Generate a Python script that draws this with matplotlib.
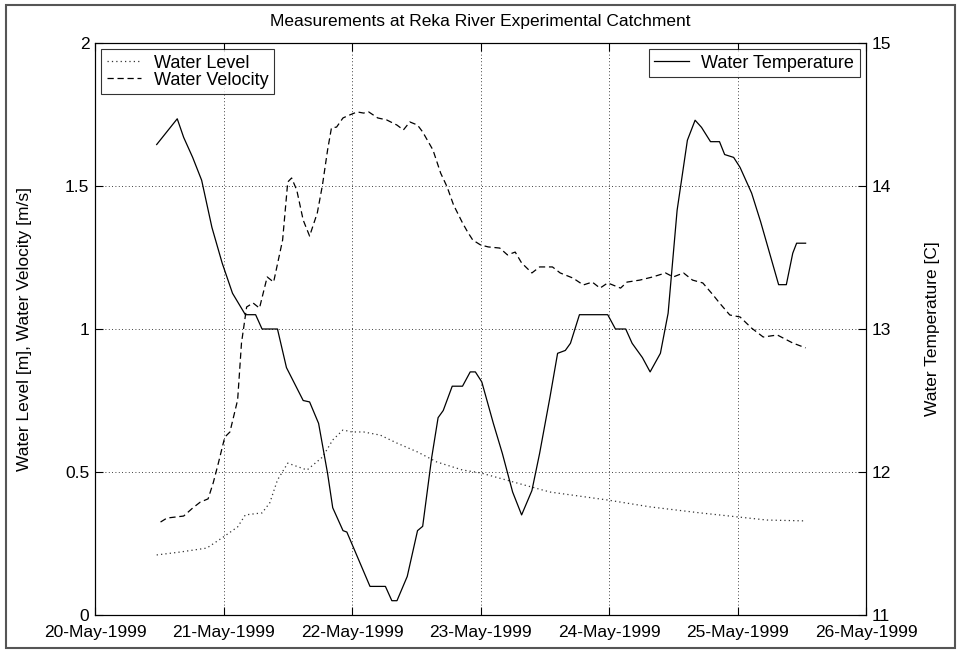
import numpy as np
import matplotlib
matplotlib.use('Agg')
import matplotlib.pyplot as plt
import matplotlib.dates as mdates
from matplotlib.patches import Rectangle

plt.rcParams['font.family'] = ['Liberation Sans', 'DejaVu Sans']

# time in days after 20-May-1999 00:00
temp_days = [0.48, 0.64, 0.69, 0.76, 0.83, 0.91, 0.99, 1.07, 1.17, 1.25, 1.30, 1.42,
             1.49, 1.62, 1.67, 1.74, 1.81, 1.85, 1.93, 1.96, 2.14, 2.26, 2.31, 2.35,
             2.43, 2.51, 2.55, 2.62, 2.67, 2.71, 2.78, 2.86, 2.92, 2.96, 3.01, 3.10,
             3.17, 3.25, 3.32, 3.40, 3.46, 3.54, 3.60, 3.66, 3.70, 3.77, 3.99, 4.05,
             4.13, 4.18, 4.26, 4.32, 4.40, 4.46, 4.53, 4.61, 4.67, 4.72, 4.79, 4.86,
             4.90, 4.97, 5.02, 5.11, 5.18, 5.25, 5.32, 5.38, 5.43, 5.46, 5.53]
temp = [14.29, 14.47, 14.34, 14.20, 14.04, 13.71, 13.46, 13.25, 13.10, 13.10, 13.00, 13.00,
        12.73, 12.50, 12.49, 12.34, 11.99, 11.75, 11.59, 11.58, 11.20, 11.20, 11.10, 11.10,
        11.27, 11.59, 11.62, 12.10, 12.38, 12.43, 12.60, 12.60, 12.70, 12.70, 12.63, 12.34,
        12.13, 11.86, 11.70, 11.87, 12.13, 12.52, 12.83, 12.85, 12.90, 13.10, 13.10, 13.00,
        13.00, 12.90, 12.80, 12.70, 12.83, 13.11, 13.83, 14.32, 14.46, 14.41, 14.31, 14.31,
        14.22, 14.20, 14.13, 13.95, 13.75, 13.53, 13.31, 13.31, 13.53, 13.60, 13.60]

vel_days = [0.51, 0.56, 0.69, 0.76, 0.82, 0.88, 0.92, 0.96, 1.01, 1.05, 1.11, 1.14,
            1.18, 1.23, 1.28, 1.34, 1.39, 1.46, 1.50, 1.53, 1.57, 1.62, 1.67, 1.73,
            1.77, 1.81, 1.84, 1.88, 1.93, 1.98, 2.04, 2.09, 2.13, 2.20, 2.27, 2.35,
            2.40, 2.45, 2.51, 2.55, 2.63, 2.69, 2.74, 2.79, 2.86, 2.90, 2.94, 3.00,
            3.06, 3.15, 3.21, 3.27, 3.32, 3.40, 3.46, 3.56, 3.62, 3.72, 3.80, 3.87,
            3.93, 3.99, 4.09, 4.14, 4.24, 4.34, 4.44, 4.50, 4.58, 4.65, 4.73, 4.81,
            4.86, 4.94, 5.02, 5.11, 5.20, 5.31, 5.43, 5.53]
vel = [0.325, 0.339, 0.346, 0.374, 0.395, 0.406, 0.462, 0.531, 0.622, 0.640, 0.752, 0.951,
       1.077, 1.091, 1.073, 1.182, 1.164, 1.311, 1.514, 1.528, 1.486, 1.381, 1.325, 1.406,
       1.503, 1.626, 1.703, 1.706, 1.738, 1.748, 1.759, 1.755, 1.759, 1.738, 1.731, 1.713,
       1.696, 1.724, 1.713, 1.689, 1.626, 1.545, 1.497, 1.434, 1.371, 1.339, 1.311, 1.294,
       1.287, 1.283, 1.259, 1.269, 1.231, 1.196, 1.217, 1.217, 1.196, 1.178, 1.154, 1.164,
       1.143, 1.161, 1.143, 1.164, 1.171, 1.182, 1.196, 1.182, 1.196, 1.171, 1.161, 1.119,
       1.091, 1.049, 1.042, 1.003, 0.972, 0.979, 0.951, 0.934]

level_days = [0.48, 0.66, 0.87, 1.00, 1.11, 1.17, 1.30, 1.36, 1.42, 1.50, 1.65, 1.77,
              1.85, 1.93, 2.00, 2.09, 2.22, 2.35, 2.51, 2.66, 2.86, 3.00, 3.28, 3.54,
              3.99, 4.32, 4.71, 5.00, 5.23, 5.53]
level = [0.210, 0.220, 0.234, 0.273, 0.308, 0.350, 0.357, 0.392, 0.472, 0.531, 0.507, 0.552,
         0.612, 0.647, 0.640, 0.640, 0.629, 0.601, 0.570, 0.535, 0.507, 0.497, 0.462, 0.430,
         0.402, 0.378, 0.357, 0.343, 0.332, 0.329]

start = np.datetime64('1999-05-20T00:00')
FS = 12.5


def to_time(days):
    return start + (np.array(days) * 86400).astype('timedelta64[s]')


fig = plt.figure(figsize=(9.6, 6.53), dpi=100)
fig.add_artist(Rectangle((6 / 960, 5 / 653), 949 / 960, 643 / 653, transform=fig.transFigure,
                         fill=False, edgecolor='#555555', linewidth=1.5))

ax = fig.add_axes([95 / 960, 38 / 653, 771 / 960, 572 / 653])
ax2 = ax.twinx()

l1, = ax.plot(to_time(level_days), level, color='#333333', linestyle=(0, (1, 2.5)), linewidth=0.9)
l2, = ax.plot(to_time(vel_days), vel, color='black', linestyle=(0, (5, 3)), linewidth=0.9)
l3, = ax2.plot(to_time(temp_days), temp, color='black', linestyle='-', linewidth=0.9)

ax.set_xlim(np.datetime64('1999-05-20'), np.datetime64('1999-05-26'))
ax.set_ylim(0, 2)
ax2.set_ylim(11, 15)
ax.set_yticks([0, 0.5, 1, 1.5, 2])
ax.set_yticklabels(['0', '0.5', '1', '1.5', '2'])
ax2.set_yticks([11, 12, 13, 14, 15])
ax.xaxis.set_major_locator(mdates.DayLocator())
ax.xaxis.set_major_formatter(mdates.DateFormatter('%d-%b-%Y'))

ax.grid(True, color='black', linestyle=(0, (1, 3)), linewidth=0.6)
for a in (ax, ax2):
    a.tick_params(direction='in', length=6, width=0.8, labelsize=FS, pad=4)
    for s in a.spines.values():
        s.set_linewidth(0.8)
ax.tick_params(axis='x', top=True, pad=7)

ax.set_ylabel('Water Level [m], Water Velocity [m/s]', fontsize=FS)
ax.yaxis.set_label_coords(-63 / 771, 0.5)
ax2.set_ylabel('Water Temperature [C]', fontsize=FS, rotation=90)
ax2.yaxis.set_label_coords(830 / 771, 0.5)
ax.set_title('Measurements at Reka River Experimental Catchment', fontsize=FS, pad=12)

leg_kw = dict(fontsize=13, frameon=True, fancybox=False, edgecolor='black',
              borderpad=0.3, handlelength=1.9, handletextpad=0.7, labelspacing=0.0,
              borderaxespad=0.35)
leg1 = ax2.legend([l1, l2], ['Water Level', 'Water Velocity'], loc='upper left', **leg_kw)
leg1.get_frame().set_linewidth(0.8)
ax2.add_artist(leg1)
leg2 = ax2.legend([l3], ['Water Temperature'], loc='upper right', **leg_kw)
leg2.get_frame().set_linewidth(0.8)

fig.savefig('out.png', dpi=100, facecolor='white')
